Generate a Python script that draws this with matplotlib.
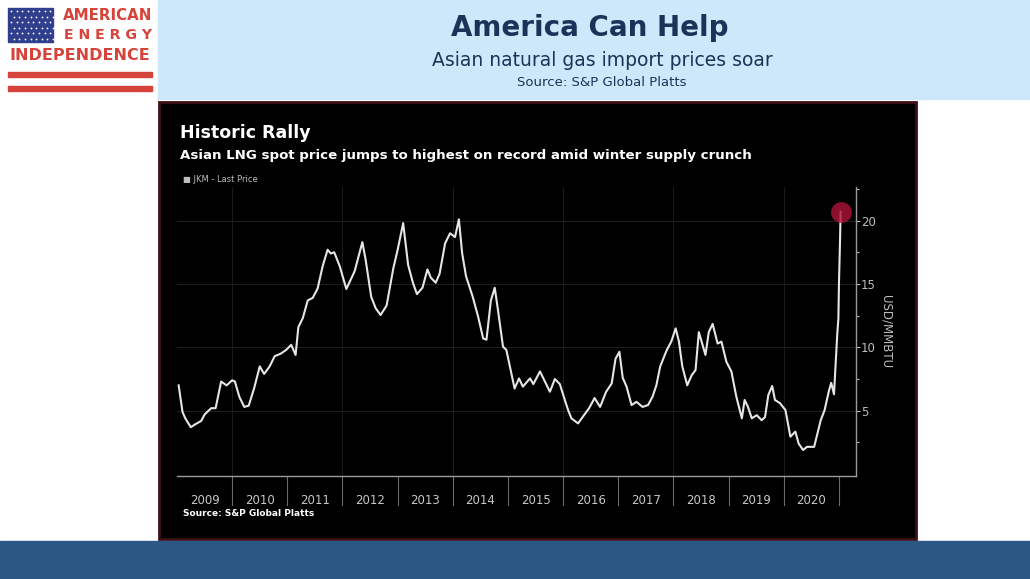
import numpy as np
import matplotlib
matplotlib.use("Agg")
import matplotlib.pyplot as plt
from matplotlib.patches import Rectangle
import matplotlib.transforms as mtransforms

# JKM spot price, USD/MMBTU (decimal years)
years = [2009.03, 2009.05, 2009.10, 2009.15, 2009.25, 2009.32, 2009.44, 2009.50, 2009.62,
         2009.70, 2009.80, 2009.90, 2010.00, 2010.05, 2010.13, 2010.22, 2010.30, 2010.40,
         2010.50, 2010.58, 2010.68, 2010.77, 2010.88, 2010.98, 2011.07, 2011.15, 2011.20,
         2011.28, 2011.37, 2011.46, 2011.55, 2011.64, 2011.73, 2011.79, 2011.85, 2011.95,
         2012.07, 2012.22, 2012.36, 2012.42, 2012.52, 2012.60, 2012.69, 2012.80, 2012.92,
         2013.00, 2013.10, 2013.19, 2013.28, 2013.35, 2013.45, 2013.54, 2013.60, 2013.69,
         2013.76, 2013.86, 2013.95, 2014.04, 2014.11, 2014.17, 2014.24, 2014.36, 2014.46,
         2014.55, 2014.61, 2014.69, 2014.76, 2014.82, 2014.91, 2014.97, 2015.12, 2015.20,
         2015.27, 2015.40, 2015.46, 2015.58, 2015.67, 2015.76, 2015.85, 2015.94, 2016.03,
         2016.09, 2016.15, 2016.27, 2016.37, 2016.47, 2016.57, 2016.67, 2016.78, 2016.88,
         2016.95, 2017.02, 2017.08, 2017.15, 2017.24, 2017.33, 2017.44, 2017.54, 2017.62,
         2017.69, 2017.76, 2017.88, 2017.96, 2018.04, 2018.10, 2018.16, 2018.25, 2018.33,
         2018.40, 2018.46, 2018.52, 2018.58, 2018.64, 2018.71, 2018.80, 2018.87, 2018.96,
         2019.05, 2019.14, 2019.24, 2019.29, 2019.35, 2019.42, 2019.51, 2019.60, 2019.66,
         2019.72, 2019.79, 2019.84, 2019.93, 2020.03, 2020.12, 2020.21, 2020.27, 2020.35,
         2020.42, 2020.55, 2020.61, 2020.67, 2020.74, 2020.82, 2020.86, 2020.91, 2020.94,
         2020.97, 2020.99, 2021.00, 2021.02, 2021.03]
price = [7.0, 6.4, 4.9, 4.4, 3.7, 3.9, 4.2, 4.7, 5.2,
         5.2, 7.3, 7.0, 7.4, 7.3, 6.1, 5.3, 5.4, 6.8,
         8.5, 7.9, 8.5, 9.3, 9.5, 9.8, 10.2, 9.4, 11.6,
         12.3, 13.7, 13.9, 14.65, 16.4, 17.7, 17.4, 17.5, 16.4,
         14.6, 16.0, 18.3, 16.9, 14.0, 13.1, 12.55, 13.3, 16.2,
         17.7, 19.8, 16.5, 15.05, 14.2, 14.7, 16.15, 15.5, 15.1,
         15.8, 18.2, 19.0, 18.7, 20.1, 17.4, 15.6, 14.0, 12.4,
         10.7, 10.6, 13.7, 14.7, 12.9, 10.05, 9.8, 6.75, 7.55,
         6.9, 7.55, 7.1, 8.1, 7.3, 6.5, 7.5, 7.1, 5.85,
         5.05, 4.4, 4.0, 4.6, 5.2, 6.0, 5.3, 6.5, 7.15,
         9.1, 9.65, 7.6, 6.9, 5.45, 5.7, 5.3, 5.45, 6.1,
         7.0, 8.5, 9.8, 10.45, 11.5, 10.45, 8.5, 7.0, 7.8,
         8.2, 11.2, 10.3, 9.4, 11.2, 11.85, 10.3, 10.45, 8.85,
         8.1, 6.1, 4.4, 5.85, 5.3, 4.4, 4.65, 4.25, 4.5,
         6.25, 6.95, 5.85, 5.6, 5.05, 2.95, 3.35, 2.4, 1.9,
         2.15, 2.15, 3.2, 4.25, 5.05, 6.6, 7.2, 6.3, 8.7,
         11.1, 12.3, 15.0, 18.5, 20.7]

year_labels = [str(y) for y in range(2009, 2021)]
y_ticks = [5, 10, 15, 20]

W, H = 1030, 579
fig = plt.figure(figsize=(W / 100, H / 100), dpi=100)
fig.patch.set_facecolor("white")

# page-level canvas in pixel coordinates
bg = fig.add_axes([0, 0, 1, 1])
bg.set_xlim(0, W)
bg.set_ylim(H, 0)
bg.axis("off")

red = "#d5433a"
bg.add_patch(Rectangle((158, 0), W - 158, 99, color="#cde8fb", zorder=0))
bg.add_patch(Rectangle((0, 541), W, 38, color="#2b5784", zorder=0))
bg.add_patch(Rectangle((159, 102), 757, 437, facecolor="black",
                       edgecolor="#3b1016", lw=2, zorder=1))

# logo
bg.add_patch(Rectangle((8, 8), 45, 34, color="#2f3f8e", zorder=2))
for i in range(8):
    for j in range(6):
        bg.plot(11 + i * 5.6 + (j % 2) * 2.8, 11 + j * 5.6, marker="o", ms=1.3,
                color="white", mec="none", zorder=3)
bg.add_patch(Rectangle((8, 72), 144, 5, color=red, zorder=2))
bg.add_patch(Rectangle((8, 86), 144, 5, color=red, zorder=2))
bg.text(152, 15, "AMERICAN", color=red, fontsize=10.8, fontweight="bold",
        ha="right", va="center", zorder=3)
bg.text(152, 35, "E N E R G Y", color=red, fontsize=10.2, fontweight="bold",
        ha="right", va="center", zorder=3)
bg.text(80, 56, "INDEPENDENCE", color=red, fontsize=11.5, fontweight="bold",
        ha="center", va="center", zorder=3)

# headings
bg.text(590, 28, "America Can Help", color="#1b3358", fontsize=20,
        fontweight="bold", ha="center", va="center")
bg.text(602, 61, "Asian natural gas import prices soar", color="#1b3358",
        fontsize=13.5, ha="center", va="center")
bg.text(602, 82, "Source: S&P Global Platts", color="#1b3358",
        fontsize=9.5, ha="center", va="center")

bg.text(180, 133, "Historic Rally", color="white", fontsize=12.5,
        fontweight="bold", ha="left", va="center")
bg.text(180, 155, "Asian LNG spot price jumps to highest on record amid winter supply crunch",
        color="white", fontsize=9.6, fontweight="bold", ha="left", va="center")
bg.text(183, 179, "\u25a0 JKM - Last Price", color="#bdbdbd", fontsize=6,
        ha="left", va="center")
bg.text(183, 514, "Source: S&P Global Platts", color="white", fontsize=6.5,
        fontweight="bold", ha="left", va="center")

# the chart
ax = fig.add_axes([177 / W, 1 - 476 / H, (855.5 - 177) / W, (476 - 187) / H])
ax.set_facecolor("black")
ax.plot(years, price, color="#e6e6e6", lw=1.5, zorder=3)
ax.plot(years[-1], price[-1], marker="o", ms=15, color="#b0143a", alpha=0.8,
        mec="none", zorder=4)

ax.set_xlim(2009.0, 2021.3)
ax.set_ylim(-0.15, 22.65)
for s in ["top", "left"]:
    ax.spines[s].set_visible(False)
for s in ["bottom", "right"]:
    ax.spines[s].set_color("#9a9a9a")
    ax.spines[s].set_linewidth(1)

ax.yaxis.tick_right()
ax.yaxis.set_label_position("right")
ax.set_yticks(y_ticks)
ax.set_yticks([2.5, 7.5, 12.5, 17.5, 22.5], minor=True)
ax.tick_params(axis="y", which="both", colors="#bdbdbd", labelsize=8.5,
               length=3, width=0.8, direction="out", pad=1)
ax.tick_params(axis="y", which="minor", length=2)
ax.set_ylabel("USD/MMBTU", color="#bdbdbd", fontsize=8.5, rotation=-90,
              labelpad=12)

ax.set_xticks([y + 0.5 for y in range(2009, 2021)])
ax.set_xticklabels(year_labels)
ax.tick_params(axis="x", colors="#c8c8c8", labelsize=8.5, length=0, pad=13)

for v in y_ticks:
    ax.axhline(v, color="#1e1e1e", lw=0.8, zorder=1)
for y in range(2010, 2021, 2):
    ax.axvline(y, color="#1a1a1a", lw=0.8, zorder=1)

trans = mtransforms.blended_transform_factory(ax.transData, ax.transAxes)
for y in range(2010, 2022):
    ax.plot([y, y], [0, -0.1], color="#6a6a6a", lw=0.8, transform=trans,
            clip_on=False)

fig.savefig("out.png", dpi=100, facecolor="white")
